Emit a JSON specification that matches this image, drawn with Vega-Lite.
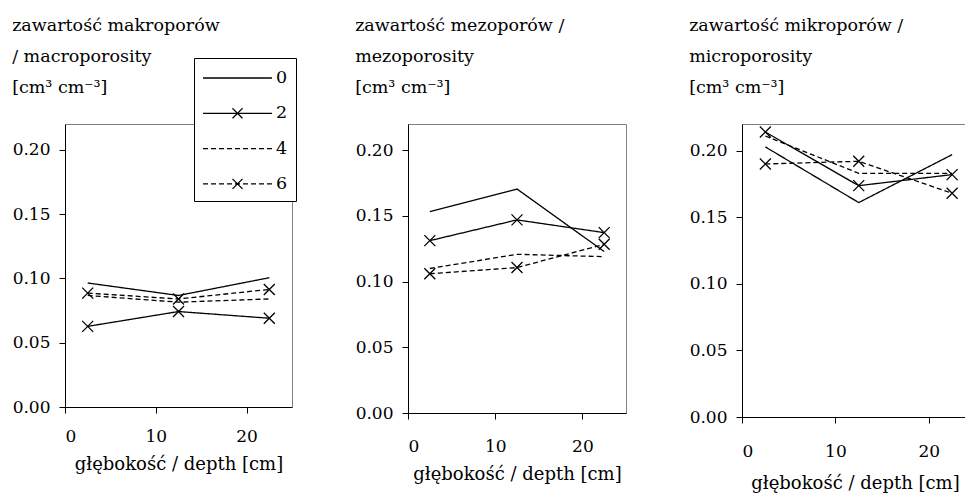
{
  "$schema": "https://vega.github.io/schema/vega-lite/v6.json",
  "padding": {"left": 11, "top": 16, "right": 0, "bottom": 0},
  "background": "white",
  "config": {
    "font": "DejaVu Serif",
    "view": {"stroke": "#808080", "strokeWidth": 1},
    "axis": {"grid": false, "domainColor": "black", "tickColor": "black", "tickSize": 6, "labelFont": "DejaVu Serif", "labelFontSize": 17, "labelColor": "black", "titleFont": "DejaVu Serif", "titleFontSize": 18, "titleFontWeight": "normal", "titleColor": "black"},
    "title": {"font": "DejaVu Serif", "fontSize": 17.5, "fontWeight": "normal", "anchor": "start", "frame": "bounds", "color": "black", "lineHeight": 31, "offset": 27.5},
    "legend": {"labelFont": "DejaVu Serif"}
  },
  "data": {"values": [
    {"panel": "macro", "series": "0", "depth": 2.5, "value": 0.0964},
    {"panel": "macro", "series": "0", "depth": 12.5, "value": 0.0867},
    {"panel": "macro", "series": "0", "depth": 22.5, "value": 0.1005},
    {"panel": "macro", "series": "2", "depth": 2.5, "value": 0.0627},
    {"panel": "macro", "series": "2", "depth": 12.5, "value": 0.0742},
    {"panel": "macro", "series": "2", "depth": 22.5, "value": 0.069},
    {"panel": "macro", "series": "4", "depth": 2.5, "value": 0.0867},
    {"panel": "macro", "series": "4", "depth": 12.5, "value": 0.0815},
    {"panel": "macro", "series": "4", "depth": 22.5, "value": 0.084},
    {"panel": "macro", "series": "6", "depth": 2.5, "value": 0.0885},
    {"panel": "macro", "series": "6", "depth": 12.5, "value": 0.084},
    {"panel": "macro", "series": "6", "depth": 22.5, "value": 0.0914},
    {"panel": "meso", "series": "0", "depth": 2.5, "value": 0.1533},
    {"panel": "meso", "series": "0", "depth": 12.5, "value": 0.1705},
    {"panel": "meso", "series": "0", "depth": 22.5, "value": 0.1229},
    {"panel": "meso", "series": "2", "depth": 2.5, "value": 0.1312},
    {"panel": "meso", "series": "2", "depth": 12.5, "value": 0.147},
    {"panel": "meso", "series": "2", "depth": 22.5, "value": 0.1373},
    {"panel": "meso", "series": "4", "depth": 2.5, "value": 0.110},
    {"panel": "meso", "series": "4", "depth": 12.5, "value": 0.1208},
    {"panel": "meso", "series": "4", "depth": 22.5, "value": 0.119},
    {"panel": "meso", "series": "6", "depth": 2.5, "value": 0.106},
    {"panel": "meso", "series": "6", "depth": 12.5, "value": 0.1107},
    {"panel": "meso", "series": "6", "depth": 22.5, "value": 0.1284},
    {"panel": "micro", "series": "0", "depth": 2.5, "value": 0.2028},
    {"panel": "micro", "series": "0", "depth": 12.5, "value": 0.161},
    {"panel": "micro", "series": "0", "depth": 22.5, "value": 0.197},
    {"panel": "micro", "series": "2", "depth": 2.5, "value": 0.214},
    {"panel": "micro", "series": "2", "depth": 12.5, "value": 0.1737},
    {"panel": "micro", "series": "2", "depth": 22.5, "value": 0.182},
    {"panel": "micro", "series": "4", "depth": 2.5, "value": 0.211},
    {"panel": "micro", "series": "4", "depth": 12.5, "value": 0.183},
    {"panel": "micro", "series": "4", "depth": 22.5, "value": 0.183},
    {"panel": "micro", "series": "6", "depth": 2.5, "value": 0.190},
    {"panel": "micro", "series": "6", "depth": 12.5, "value": 0.192},
    {"panel": "micro", "series": "6", "depth": 22.5, "value": 0.168}
  ]},
  "spacing": 61,
  "resolve": {"scale": {"strokeDash": "shared"}, "legend": {"strokeDash": "shared"}},
  "hconcat": [
    {
      "title": {"text": ["zawartość makroporów", "/ macroporosity", " [cm³ cm⁻³]"]},
      "width": 227, "height": 283,
      "transform": [{"filter": "datum.panel === 'macro'"}],
      "layer": [
        {"mark": {"type": "line", "color": "black", "strokeWidth": 1.3},
         "encoding": {
           "x": {"field": "depth", "type": "quantitative", "scale": {"domain": [0, 25], "nice": false}, "axis": {"values": [0, 10, 20], "title": "głębokość / depth [cm]", "labelPadding": 15.3, "titlePadding": 11}},
           "y": {"field": "value", "type": "quantitative", "scale": {"domain": [0, 0.22], "nice": false}, "axis": {"values": [0, 0.05, 0.1, 0.15, 0.2], "format": ".2f", "title": null, "labelPadding": 9}},
           "strokeDash": {"field": "series", "type": "nominal", "scale": {"domain": ["0", "2", "4", "6"], "range": [[1, 0], [1, 0], [5, 3], [5, 3]]},
             "legend": {"title": null, "orient": "none", "legendX": 129, "legendY": -66, "symbolSize": 484, "labelOffset": 50, "padding": 8, "rowPadding": 14.3, "strokeColor": "black", "fillColor": "white", "labelFontSize": 17.5, "labelColor": "black", "symbolStrokeWidth": 1.3, "symbolStrokeColor": "black",
               "encode": {"symbols": {"update": {"shape": {"signal": "(datum.value === '2' || datum.value === '6') ? 'M-1,0H5.27M2.136,0L2.363,0.227M2.363,0.227L2.591,0.455M2.136,0L1.909,-0.227M1.909,-0.227L1.682,-0.455M2.136,0L2.363,-0.227M2.363,-0.227L2.591,-0.455M2.136,0L1.909,0.227M1.909,0.227L1.682,0.455' : 'M-1,0H5.27'"}}}}}}
         }},
        {"transform": [{"filter": "datum.series === '2' || datum.series === '6'"}],
         "mark": {"type": "point", "shape": "M-1,-1L1,1M1,-1L-1,1", "size": 121, "filled": false, "stroke": "black", "strokeWidth": 1.3, "opacity": 1},
         "encoding": {"x": {"field": "depth", "type": "quantitative"}, "y": {"field": "value", "type": "quantitative"}}}
      ]
    },
    {
      "title": {"text": ["zawartość mezoporów /", "mezoporosity", " [cm³ cm⁻³]"]},
      "width": 218, "height": 289,
      "transform": [{"filter": "datum.panel === 'meso'"}],
      "layer": [
        {"mark": {"type": "line", "color": "black", "strokeWidth": 1.3},
         "encoding": {
           "x": {"field": "depth", "type": "quantitative", "scale": {"domain": [0, 25], "nice": false}, "axis": {"values": [0, 10, 20], "title": "głębokość / depth [cm]", "labelPadding": 19.3, "titlePadding": 11.5}},
           "y": {"field": "value", "type": "quantitative", "scale": {"domain": [0, 0.22], "nice": false}, "axis": {"values": [0, 0.05, 0.1, 0.15, 0.2], "format": ".2f", "title": null, "labelPadding": 9}},
           "strokeDash": {"field": "series", "type": "nominal"}
         }},
        {"transform": [{"filter": "datum.series === '2' || datum.series === '6'"}],
         "mark": {"type": "point", "shape": "M-1,-1L1,1M1,-1L-1,1", "size": 121, "filled": false, "stroke": "black", "strokeWidth": 1.3, "opacity": 1},
         "encoding": {"x": {"field": "depth", "type": "quantitative"}, "y": {"field": "value", "type": "quantitative"}}}
      ]
    },
    {
      "title": {"text": ["zawartość mikroporów /", "microporosity", " [cm³ cm⁻³]"]},
      "width": 226, "height": 293,
      "transform": [{"filter": "datum.panel === 'micro'"}],
      "layer": [
        {"mark": {"type": "line", "color": "black", "strokeWidth": 1.3},
         "encoding": {
           "x": {"field": "depth", "type": "quantitative", "scale": {"domain": [0, 24.2], "nice": false}, "axis": {"values": [0, 10, 20], "title": "głębokość / depth [cm]", "labelPadding": 20.3, "titlePadding": 15}},
           "y": {"field": "value", "type": "quantitative", "scale": {"domain": [0, 0.22], "nice": false}, "axis": {"values": [0, 0.05, 0.1, 0.15, 0.2], "format": ".2f", "title": null, "labelPadding": 9}},
           "strokeDash": {"field": "series", "type": "nominal"}
         }},
        {"transform": [{"filter": "datum.series === '2' || datum.series === '6'"}],
         "mark": {"type": "point", "shape": "M-1,-1L1,1M1,-1L-1,1", "size": 121, "filled": false, "stroke": "black", "strokeWidth": 1.3, "opacity": 1},
         "encoding": {"x": {"field": "depth", "type": "quantitative"}, "y": {"field": "value", "type": "quantitative"}}}
      ]
    }
  ]
}
